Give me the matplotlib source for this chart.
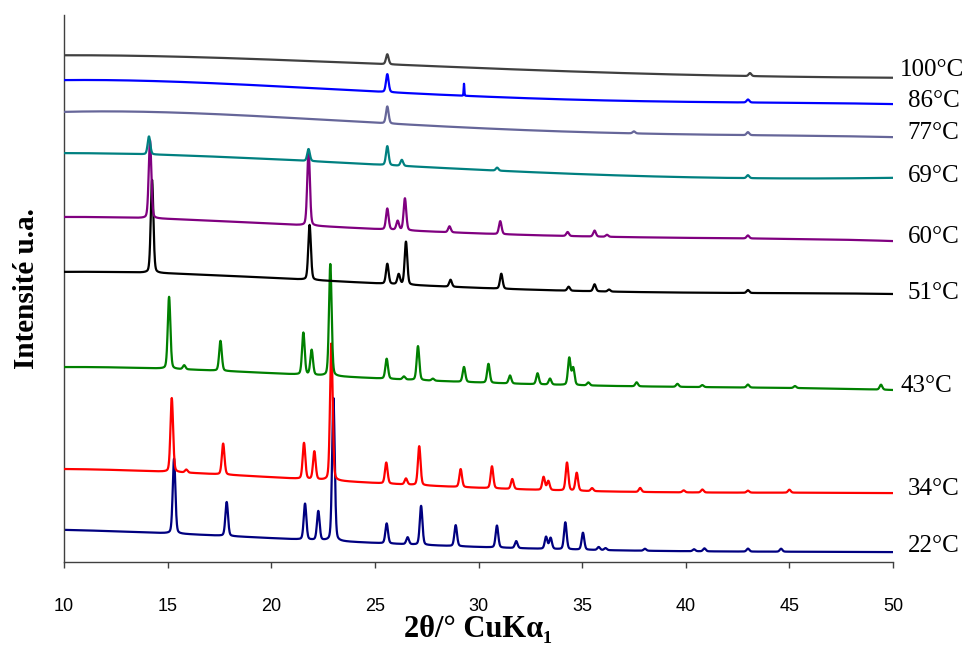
import numpy as np
import matplotlib.pyplot as plt

# temperatures, bottom to top
temps = ['22°C', '34°C', '43°C', '51°C', '60°C', '69°C', '77°C', '86°C', '100°C']
colors = ['#000080', '#FF0000', '#008000', '#000000', '#800080', '#008080', '#666699', '#0000FF', '#404040']

# baseline level read at these 2theta positions
knots = [10, 15, 20, 25, 30, 35, 40, 45, 50]
base_22 = [32, 29, 24, 18, 16, 12, 11, 10, 10]
base_34 = [93, 90, 85, 79, 74, 71, 70, 69, 69]
base_43 = [195, 193, 189, 184, 179, 177, 175, 174, 172]
base_51 = [290, 289, 284, 278, 275, 271, 269, 269, 268]
base_60 = [345, 343, 339, 332, 329, 326, 324, 323, 321]
base_69 = [409, 407, 402, 399, 392, 387, 385, 384, 384]
base_77 = [450, 450, 445, 439, 434, 430, 428, 426, 425]
base_86 = [482, 480, 477, 470, 465, 463, 460, 459, 458]
base_100 = [507, 505, 502, 500, 493, 490, 487, 486, 484]

# peaks: (2theta, height above baseline)
peaks_22 = [(15.31, 75), (17.85, 34), (21.63, 36), (22.27, 29), (23.0, 143), (25.57, 20),
            (26.58, 7), (27.23, 39), (28.9, 21), (30.89, 22), (31.82, 7), (33.26, 12),
            (33.48, 11), (34.19, 27), (35.04, 17), (35.8, 3), (36.13, 2), (38.03, 2),
            (40.4, 2), (40.9, 3), (43.0, 3), (44.6, 3)]
peaks_34 = [(15.2, 74), (15.9, 3), (17.68, 31), (21.58, 36), (22.08, 28), (22.9, 137),
            (25.55, 21), (26.5, 6), (27.14, 39), (29.14, 18), (30.65, 22), (31.63, 10),
            (33.14, 13), (33.37, 9), (34.27, 28), (34.74, 18), (35.48, 3), (37.8, 4),
            (39.9, 2), (40.8, 3), (43.0, 2), (45.0, 3)]
peaks_43 = [(15.07, 72), (15.8, 4), (17.55, 30), (21.55, 42), (21.95, 25), (22.85, 112),
            (25.57, 20), (26.4, 3), (27.08, 34), (27.8, 2), (29.3, 15), (30.48, 19),
            (31.52, 8), (32.85, 11), (33.45, 6), (34.38, 27), (34.57, 17), (35.3, 3),
            (37.63, 4), (39.6, 3), (40.8, 2), (43.0, 3), (45.27, 2), (49.42, 5)]
peaks_51 = [(14.25, 93), (21.85, 55), (25.6, 20), (26.15, 10), (26.5, 43), (28.65, 7),
            (31.1, 15), (34.35, 4), (35.6, 7), (36.3, 2), (43.0, 3)]
peaks_60 = [(14.15, 78), (21.8, 76), (25.6, 21), (26.1, 9), (26.45, 32), (28.6, 6),
            (31.05, 13), (34.3, 4), (35.6, 6), (36.2, 2), (43.0, 3)]
peaks_69 = [(14.1, 18), (21.8, 12), (25.6, 19), (26.3, 6), (30.9, 3), (43.0, 3)]
peaks_77 = [(25.6, 17), (37.5, 2), (43.0, 3)]
peaks_86 = [(25.6, 18), (43.0, 3)]
spikes_86 = [(29.3, 12)]
peaks_100 = [(25.6, 10), (43.1, 3)]

bases = [base_22, base_34, base_43, base_51, base_60, base_69, base_77, base_86, base_100]
peaks = [peaks_22, peaks_34, peaks_43, peaks_51, peaks_60, peaks_69, peaks_77, peaks_86, peaks_100]
spikes = [[], [], [], [], [], [], [], spikes_86, []]

# label placement (x in degrees, y in plot units)
label_x = [50.7, 50.7, 50.35, 50.7, 50.7, 50.7, 50.7, 50.7, 50.35]
label_y = [16, 73, 176, 269, 325, 386, 429, 461, 492]


def smooth_base(x, base):
    # smooth curve through the read baseline levels
    coef = np.polyfit(knots, base, 4)
    return np.polyval(coef, x)


def add_peaks(x, y, peak_list, fwhm):
    sigma = fwhm / 2.3548
    for pos, h in peak_list:
        g = np.exp(-0.5 * ((x - pos) / sigma) ** 2)
        lor = 1.0 / (1.0 + ((x - pos) / (fwhm / 2)) ** 2)
        y = y + h * (0.75 * g + 0.25 * lor)
    return y


two_theta = np.arange(10, 50.0001, 0.01)

fig = plt.figure(figsize=(9.67, 6.46), dpi=100)
ax = fig.add_axes([64 / 967, 84 / 646, 829 / 967, 547 / 646])

for i in range(len(temps)):
    y = smooth_base(two_theta, bases[i])
    y = add_peaks(two_theta, y, peaks[i], 0.15)
    y = add_peaks(two_theta, y, spikes[i], 0.04)
    ax.plot(two_theta, y, color=colors[i], lw=1.6, zorder=2 + i)
    ax.text(label_x[i], label_y[i], temps[i], fontsize=18, family='Liberation Serif',
            ha='left', va='center', transform=ax.transData, clip_on=False)

ax.set_xlim(10, 50)
ax.set_ylim(0, 547)
ax.set_xticks(range(10, 51, 5))
ax.set_yticks([])
ax.spines['top'].set_visible(False)
ax.spines['right'].set_visible(False)
for s in ['left', 'bottom']:
    ax.spines[s].set_color('#404040')
    ax.spines[s].set_linewidth(1.0)
ax.tick_params(axis='x', direction='out', length=4, width=1, color='#404040',
               labelsize=13, pad=22)
for lab in ax.get_xticklabels():
    lab.set_family('Liberation Sans')

ax.set_xlabel('2θ/° CuKα₁', fontsize=22, fontweight='bold',
              family=['Liberation Serif', 'DejaVu Serif'], labelpad=0)
ax.set_ylabel('Intensité u.a.', fontsize=21, fontweight='bold',
              family='Liberation Serif', labelpad=17)

fig.savefig('out.png', dpi=100)
